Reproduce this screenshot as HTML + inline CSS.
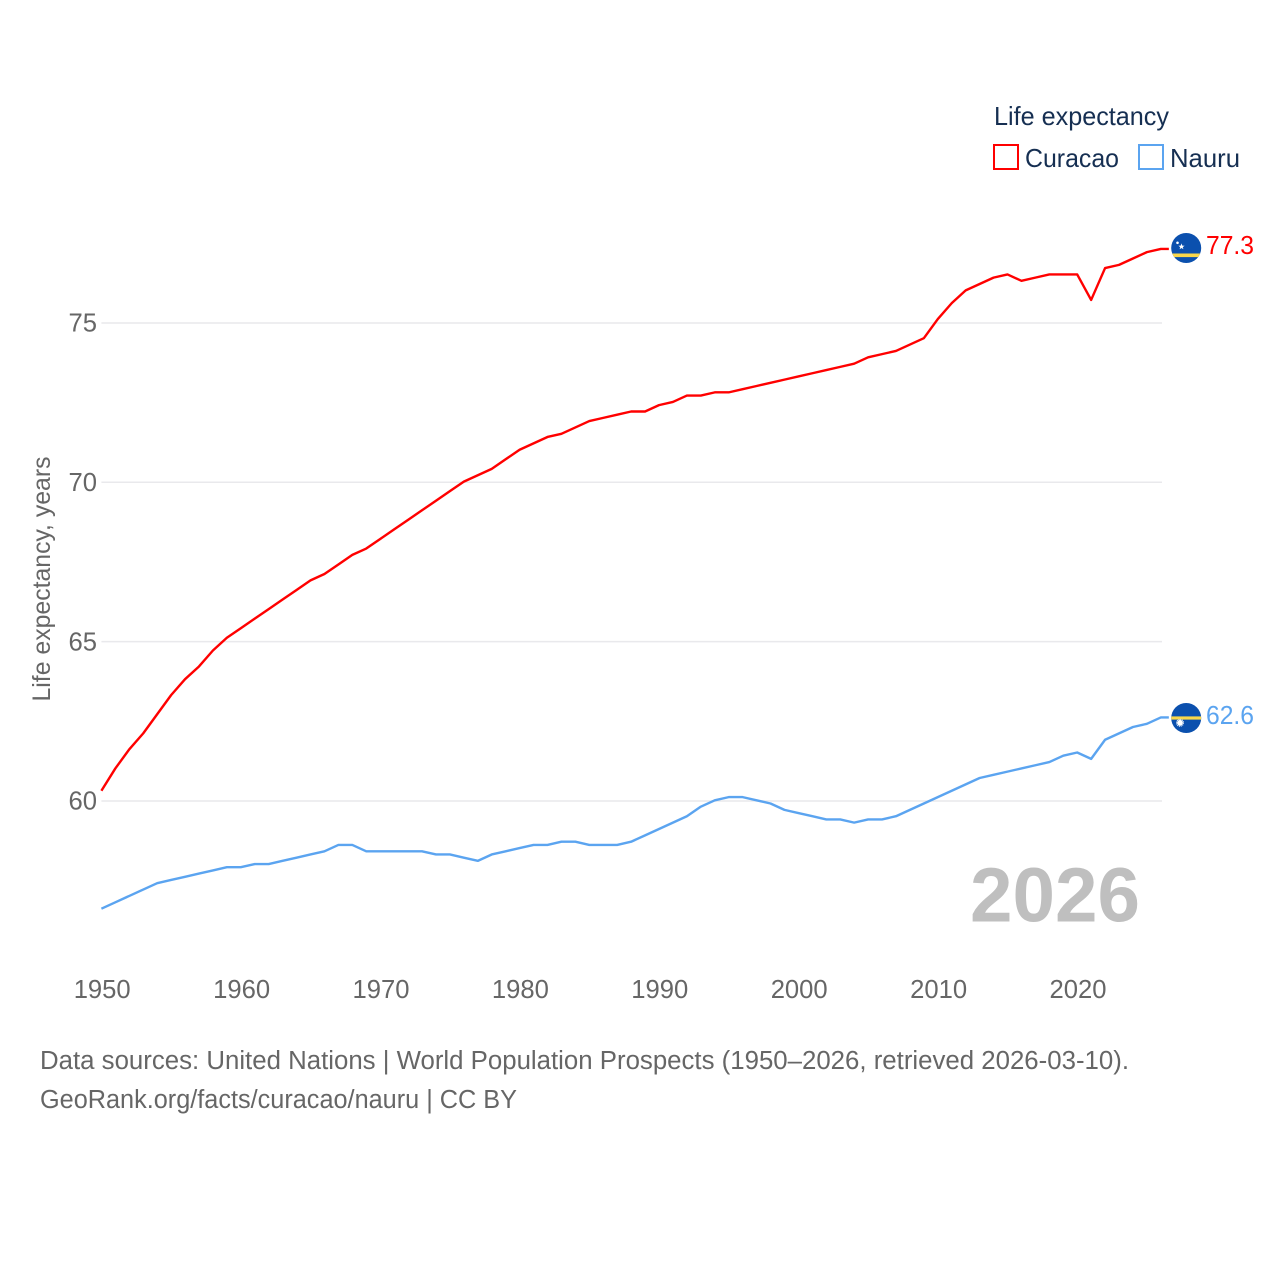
<!DOCTYPE html>
<html lang="en">
<head>
<meta charset="utf-8">
<title>Life expectancy: Curacao and Nauru</title>
<style>
  html, body { margin: 0; padding: 0; background: #ffffff; }
  svg { display: block; font-family: "Liberation Sans", sans-serif; }
</style>
</head>
<body>
<svg id="chart" xmlns="http://www.w3.org/2000/svg" width="1280" height="1280" viewBox="0 0 1280 1280">
  <rect x="0" y="0" width="1280" height="1280" fill="#ffffff"></rect>
  <g id="grid"></g>
  <g id="yticks"></g>
  <g id="xticks"></g>
  <text transform="translate(50 579) rotate(-90)" text-anchor="middle" font-size="25" fill="#666666" textLength="245" lengthAdjust="spacingAndGlyphs">Life expectancy, years</text>
  <text x="970" y="921.5" font-size="77" font-weight="bold" fill="#bfbfbf" textLength="170" lengthAdjust="spacingAndGlyphs">2026</text>
  <g id="series"></g>

  <g>
    <clipPath id="flag-clip-c"><circle cx="1186.2" cy="248" r="15"></circle></clipPath>
    <circle cx="1186.2" cy="248" r="15" fill="#0b50ae"></circle>
    <rect x="1171" y="253.5" width="30.4" height="3.6" fill="#f9d74b" clip-path="url(#flag-clip-c)"></rect>
    <circle cx="1177.5" cy="242.8" r="1.3" fill="#ffffff"></circle>
    <polygon points="1181.5,243.4 1182.3,245.6 1184.6,245.7 1182.8,247.1 1183.4,249.3 1181.5,248 1179.6,249.3 1180.2,247.1 1178.4,245.7 1180.7,245.6" fill="#ffffff"></polygon>
  </g>
  <g>
    <clipPath id="flag-clip-n"><circle cx="1186.2" cy="718" r="15"></circle></clipPath>
    <circle cx="1186.2" cy="718" r="15" fill="#0b50ae"></circle>
    <rect x="1171" y="716.4" width="30.4" height="3.2" fill="#f9d74b" clip-path="url(#flag-clip-n)"></rect>
    <circle cx="1180" cy="722.8" r="2.9" fill="#ffffff"></circle>
    <circle cx="1180" cy="722.8" r="3.5" fill="none" stroke="#ffffff" stroke-width="1" stroke-dasharray="1 0.85"></circle>
  </g>

  <text x="1206" y="254" font-size="26" fill="#ff0000" textLength="48" lengthAdjust="spacingAndGlyphs">77.3</text>
  <text x="1206" y="724" font-size="26" fill="#5ba4f0" textLength="48" lengthAdjust="spacingAndGlyphs">62.6</text>

  <g>
    <text x="994" y="125" font-size="26" fill="#162f52" textLength="175" lengthAdjust="spacingAndGlyphs">Life expectancy</text>
    <rect x="994" y="145" width="24" height="24" fill="none" stroke="#ff0000" stroke-width="2"></rect>
    <text x="1025" y="167" font-size="26" fill="#162f52" textLength="94" lengthAdjust="spacingAndGlyphs">Curacao</text>
    <rect x="1139" y="145" width="24" height="24" fill="none" stroke="#5ba4f0" stroke-width="2"></rect>
    <text x="1170" y="167" font-size="26" fill="#162f52" textLength="70" lengthAdjust="spacingAndGlyphs">Nauru</text>
  </g>

  <text x="40" y="1069" font-size="25.5" fill="#666666" textLength="1089" lengthAdjust="spacingAndGlyphs">Data sources: United Nations | World Population Prospects (1950–2026, retrieved 2026-03-10).</text>
  <text x="40" y="1108" font-size="25.5" fill="#666666" textLength="477" lengthAdjust="spacingAndGlyphs">GeoRank.org/facts/curacao/nauru | CC BY</text>
</svg>
<script>
const startYear = 1950;
const curacaoValues = [60.3,61.0,61.6,62.1,62.7,63.3,63.8,64.2,64.7,65.1,65.4,65.7,66.0,66.3,66.6,66.9,67.1,67.4,67.7,67.9,68.2,68.5,68.8,69.1,69.4,69.7,70.0,70.2,70.4,70.7,71.0,71.2,71.4,71.5,71.7,71.9,72.0,72.1,72.2,72.2,72.4,72.5,72.7,72.7,72.8,72.8,72.9,73.0,73.1,73.2,73.3,73.4,73.5,73.6,73.7,73.9,74.0,74.1,74.3,74.5,75.1,75.6,76.0,76.2,76.4,76.5,76.3,76.4,76.5,76.5,76.5,75.7,76.7,76.8,77.0,77.2,77.3];
const nauruValues = [56.6,56.8,57.0,57.2,57.4,57.5,57.6,57.7,57.8,57.9,57.9,58.0,58.0,58.1,58.2,58.3,58.4,58.6,58.6,58.4,58.4,58.4,58.4,58.4,58.3,58.3,58.2,58.1,58.3,58.4,58.5,58.6,58.6,58.7,58.7,58.6,58.6,58.6,58.7,58.9,59.1,59.3,59.5,59.8,60.0,60.1,60.1,60.0,59.9,59.7,59.6,59.5,59.4,59.4,59.3,59.4,59.4,59.5,59.7,59.9,60.1,60.3,60.5,60.7,60.8,60.9,61.0,61.1,61.2,61.4,61.5,61.3,61.9,62.1,62.3,62.4,62.6];
const yTickValues = [60, 65, 70, 75];
const xTickValues = [1950, 1960, 1970, 1980, 1990, 2000, 2010, 2020];

const SVG_NS = 'http://www.w3.org/2000/svg';
const LINE_Y_NUDGE = -0.7;
const xScale = function (year) { return 101.4 + (year - 1950) * 13.94; };
const yScale = function (value) { return 801 - (value - 60) * 31.87; };

const gridGroup = document.getElementById('grid');
const yTickGroup = document.getElementById('yticks');
const xTickGroup = document.getElementById('xticks');
const seriesGroup = document.getElementById('series');

yTickValues.forEach(function (tick) {
  const line = document.createElementNS(SVG_NS, 'line');
  
  
  line.setAttribute('x1', xScale(1950));
  line.setAttribute('x2', 1162);
  line.setAttribute('y1', yScale(tick));
  line.setAttribute('y2', yScale(tick));
  line.setAttribute('stroke', '#e9e9ec');
  line.setAttribute('stroke-width', '1.5');
  gridGroup.appendChild(line);

  const label = document.createElementNS(SVG_NS, 'text');
  
  
  label.setAttribute('x', 97);
  label.setAttribute('y', yScale(tick) + 8.6);
  label.setAttribute('text-anchor', 'end');
  label.setAttribute('font-size', '26');
  label.setAttribute('fill', '#666666');
  label.setAttribute('textLength', '28.5');
  label.setAttribute('lengthAdjust', 'spacingAndGlyphs');
  label.textContent = String(tick);
  yTickGroup.appendChild(label);
});

xTickValues.forEach(function (tick) {
  const label = document.createElementNS(SVG_NS, 'text');
  
  
  label.setAttribute('x', xScale(tick) + 0.8);
  label.setAttribute('y', 998);
  label.setAttribute('text-anchor', 'middle');
  label.setAttribute('font-size', '26');
  label.setAttribute('fill', '#666666');
  label.setAttribute('textLength', '57');
  label.setAttribute('lengthAdjust', 'spacingAndGlyphs');
  label.textContent = String(tick);
  xTickGroup.appendChild(label);
});

function buildPoints(values) {
  return values.map(function (value, i) {
    return xScale(startYear + i).toFixed(2) + ',' + (yScale(value) + LINE_Y_NUDGE).toFixed(2);
  });
}

function lastPointConnector(values) {
  const lastValue = values[values.length - 1];
  const lastYear = startYear + values.length - 1;
  return (xScale(lastYear) + 8).toFixed(2) + ',' + (yScale(lastValue) + LINE_Y_NUDGE).toFixed(2);
}

const curacaoLine = document.createElementNS(SVG_NS, 'polyline');


curacaoLine.setAttribute('points', buildPoints(curacaoValues).concat(lastPointConnector(curacaoValues)).join(' '));
curacaoLine.setAttribute('fill', 'none');
curacaoLine.setAttribute('stroke', '#ff0000');
curacaoLine.setAttribute('stroke-width', '2.4');
curacaoLine.setAttribute('stroke-linejoin', 'round');
seriesGroup.appendChild(curacaoLine);

const nauruLine = document.createElementNS(SVG_NS, 'polyline');


nauruLine.setAttribute('points', buildPoints(nauruValues).concat(lastPointConnector(nauruValues)).join(' '));
nauruLine.setAttribute('fill', 'none');
nauruLine.setAttribute('stroke', '#5ba4f0');
nauruLine.setAttribute('stroke-width', '2.4');
nauruLine.setAttribute('stroke-linejoin', 'round');
seriesGroup.appendChild(nauruLine);
</script>
</body>
</html>
